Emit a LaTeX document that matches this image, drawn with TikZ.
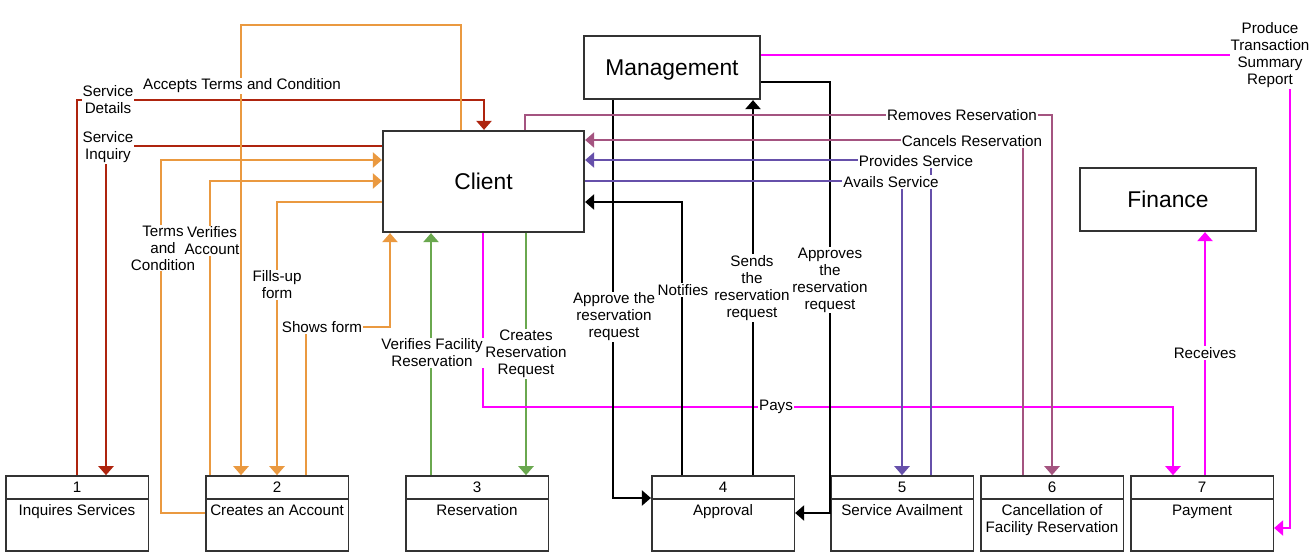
\documentclass[tikz,border=0pt]{standalone}
\usepackage{fontspec}
\setmainfont{Liberation Sans}
\usepackage{tikz}
\usetikzlibrary{arrows.meta, positioning}

\definecolor{boxgray}{RGB}{51,51,51}
\definecolor{dred}{RGB}{174,36,14}
\definecolor{orng}{RGB}{234,153,64}
\definecolor{grn}{RGB}{106,168,79}
\definecolor{mag}{RGB}{255,0,255}
\definecolor{purp}{RGB}{102,80,170}
\definecolor{mauv}{RGB}{164,84,128}

\newcommand{\lblfont}{\fontsize{15.2}{17}\selectfont}
\newcommand{\bigfont}{\fontsize{22.8}{26}\selectfont}

\tikzset{
  entity/.style={rectangle, draw=boxgray, line width=2.2pt, minimum width=176pt, minimum height=63pt, font=\bigfont},
  prochead/.style={rectangle, draw=boxgray, line width=1.6pt, minimum width=142.6pt, minimum height=23pt, inner sep=0pt, font=\lblfont},
  procbody/.style={rectangle, draw=boxgray, line width=1.6pt, minimum width=142.6pt, minimum height=52pt, inner sep=0pt},
  proctext/.style={anchor=north, align=center, font=\lblfont, inner sep=2pt},
  flow/.style={line width=2.2pt, ->},
  lbl/.style={fill=white, align=center, font=\lblfont, inner sep=1pt},
}

\begin{document}
\begin{tikzpicture}[x=1pt, y=-1pt, >={Triangle[length=9pt, width=15pt]}]

            \useasboundingbox (0,0) rectangle (1313,556);

            % External entities
            \node[entity, minimum width=201pt, minimum height=101pt] (client) at (483.5,181.5) {Client};
            \node[entity, text depth=0pt] (mgmt) at (672,67.5) {Management};
            \node[entity] (finance) at (1168,199.5) {Finance};

            % Processes
            \node[prochead] (h1) at (77,487.5) {1};
            \node[prochead] (h2) at (277,487.5) {2};
            \node[prochead] (h3) at (477,487.5) {3};
            \node[prochead] (h4) at (723,487.5) {4};
            \node[prochead] (h5) at (902,487.5) {5};
            \node[prochead] (h6) at (1052,487.5) {6};
            \node[prochead] (h7) at (1202,487.5) {7};

            \node[procbody, below=-1.6pt of h1] (p1) {};
            \node[procbody, below=-1.6pt of h2] (p2) {};
            \node[procbody, below=-1.6pt of h3] (p3) {};
            \node[procbody, below=-1.6pt of h4] (p4) {};
            \node[procbody, below=-1.6pt of h5] (p5) {};
            \node[procbody, below=-1.6pt of h6] (p6) {};
            \node[procbody, below=-1.6pt of h7] (p7) {};

            \node[proctext] (t1) at ([yshift=-4.5pt]p1.north) {Inquires Services};
            \node[proctext] (t2) at ([yshift=-4.5pt]p2.north) {Creates an Account};
            \node[proctext] (t3) at ([yshift=-4.5pt]p3.north) {Reservation};
            \node[proctext] (t4) at ([yshift=-4.5pt]p4.north) {Approval};
            \node[proctext] (t5) at ([yshift=-4.5pt]p5.north) {Service Availment};
            \node[proctext] (t6) at ([yshift=-4.5pt]p6.north) {Cancellation of\\Facility Reservation};
            \node[proctext] (t7) at ([yshift=-4.5pt]p7.north) {Payment};

            % Client <-> inquiry
            \draw[flow, dred] (h1.north) |- (484,100) -- (client.north -| 484,0);
            \draw[flow, dred] (client.west |- 0,146) -| (h1.north -| 106,0);

            % Client <-> account
            \draw[flow, orng] (client.north -| 461,0) |- (241,25) -- (h2.north -| 241,0);
            \draw[flow, orng] (p2.west |- 0,513) -| (161,160) -- (client.west |- 0,160);
            \draw[flow, orng] (h2.north -| 210,0) |- (client.west |- 0,181);
            \draw[flow, orng] (client.west |- 0,202) -| (h2.north);
            \draw[flow, orng] (h2.north -| 306,0) |- (390,327) -- (client.south -| 390,0);

            % Client <-> reservation
            \draw[flow, grn] (h3.north -| 431,0) -- (client.south -| 431,0);
            \draw[flow, grn] (client.south -| 526,0) -- (h3.north -| 526,0);

            % Payment
            \draw[flow, mag] (client.south -| 483,0) |- (1173,407) -- (h7.north -| 1173,0);
            \draw[flow, mag] (h7.north -| 1205,0) -- (finance.south -| 1205,0);
            \draw[flow, mag] (mgmt.east |- 0,55) -| (1290,528) -- (p7.east |- 0,528);

            % Approval
            \draw[flow] (mgmt.south -| 613,0) |- (h4.west |- 0,498);
            \draw[flow] (h4.north -| 682,0) |- (client.east |- 0,202);
            \draw[flow] (h4.north -| 753,0) -- (mgmt.south -| 753,0);
            \draw[flow] (mgmt.east |- 0,82) -| (830,513) -- (p4.east |- 0,513);

            % Service availment
            \draw[flow, purp] (h5.north -| 931,0) |- (client.east |- 0,160);
            \draw[flow, purp] (client.east |- 0,181) -| (h5.north);

            % Cancellation
            \draw[flow, mauv] (h6.north -| 1023,0) |- (client.east |- 0,140);
            \draw[flow, mauv] (client.north -| 525,0) |- (1052,115) -- (h6.north);

            % Flow labels
            \node[lbl] (lDetails) at (108,100) {Service\\Details};
            \node[lbl] (lInquiry) at (108,147) {Service\\Inquiry};
            \node[lbl] (lAccepts) at (242,86) {Accepts Terms and Condition};
            \node[lbl] (lTerms) at (163,248) {Terms\\and\\Condition};
            \node[lbl] (lVerAcc) at (212,241) {Verifies\\Account};
            \node[lbl] (lFills) at (277,285) {Fills-up\\form};
            \node[lbl] (lShows) at (322,327) {Shows form};
            \node[lbl] (lVerFac) at (432,353) {Verifies Facility\\Reservation};
            \node[lbl] (lCreates) at (526,354) {Creates\\Reservation\\Request};
            \node[lbl] (lPays) at (776,407) {Pays};
            \node[lbl] (lApprove) at (614,317) {Approve the\\reservation\\request};
            \node[lbl] (lNotifies) at (683,290) {Notifies};
            \node[lbl] (lSends) at (752,288) {Sends\\the\\reservation\\request};
            \node[lbl] (lApproves) at (830,280) {Approves\\the\\reservation\\request};
            \node[lbl] (lRemoves) at (962,115) {Removes Reservation};
            \node[lbl] (lCancels) at (972,141) {Cancels Reservation};
            \node[lbl] (lProvides) at (916,161) {Provides Service};
            \node[lbl] (lAvails) at (891,182) {Avails Service};
            \node[lbl] (lReport) at (1270,55) {Produce\\Transaction\\Summary\\Report};
            \node[lbl] (lReceives) at (1205,353) {Receives};

        \end{tikzpicture}
\end{document}
